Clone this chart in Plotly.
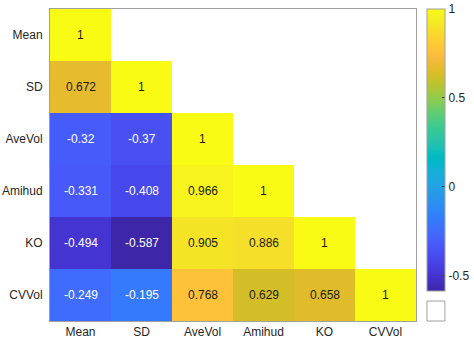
import plotly.graph_objects as go

labels = ["Mean", "SD", "AveVol", "Amihud", "KO", "CVVol"]
row_mean = [1, None, None, None, None, None]
row_sd = [0.672, 1, None, None, None, None]
row_avevol = [-0.32, -0.37, 1, None, None, None]
row_amihud = [-0.331, -0.408, 0.966, 1, None, None]
row_ko = [-0.494, -0.587, 0.905, 0.886, 1, None]
row_cvvol = [-0.249, -0.195, 0.768, 0.629, 0.658, 1]
cbar_ticks = [-0.5, 0, 0.5, 1]
cbar_ticktext = ["-0.5", "0", "0.5", "1"]

z = [row_mean, row_sd, row_avevol, row_amihud, row_ko, row_cvvol]

parula = [
    (0.2422, 0.1504, 0.6603), (0.2504, 0.1650, 0.7076), (0.2578, 0.1818, 0.7511),
    (0.2647, 0.1978, 0.7952), (0.2706, 0.2147, 0.8364), (0.2751, 0.2342, 0.8710),
    (0.2783, 0.2559, 0.8991), (0.2803, 0.2782, 0.9221), (0.2813, 0.3006, 0.9414),
    (0.2810, 0.3228, 0.9579), (0.2795, 0.3447, 0.9717), (0.2760, 0.3667, 0.9829),
    (0.2699, 0.3892, 0.9906), (0.2602, 0.4123, 0.9952), (0.2440, 0.4358, 0.9988),
    (0.2206, 0.4603, 0.9973), (0.1963, 0.4847, 0.9892), (0.1834, 0.5074, 0.9798),
    (0.1786, 0.5289, 0.9682), (0.1764, 0.5499, 0.9520), (0.1687, 0.5703, 0.9359),
    (0.1540, 0.5902, 0.9218), (0.1460, 0.6091, 0.9079), (0.1380, 0.6276, 0.8973),
    (0.1248, 0.6459, 0.8883), (0.1113, 0.6635, 0.8763), (0.0952, 0.6798, 0.8598),
    (0.0689, 0.6948, 0.8394), (0.0297, 0.7082, 0.8163), (0.0036, 0.7203, 0.7917),
    (0.0067, 0.7312, 0.7660), (0.0433, 0.7411, 0.7394), (0.0964, 0.7500, 0.7120),
    (0.1408, 0.7584, 0.6842), (0.1717, 0.7670, 0.6554), (0.1938, 0.7758, 0.6251),
    (0.2161, 0.7843, 0.5923), (0.2470, 0.7918, 0.5567), (0.2906, 0.7973, 0.5188),
    (0.3406, 0.8008, 0.4789), (0.3909, 0.8029, 0.4354), (0.4456, 0.8024, 0.3909),
    (0.5044, 0.7993, 0.3480), (0.5616, 0.7942, 0.3045), (0.6174, 0.7876, 0.2612),
    (0.6720, 0.7793, 0.2227), (0.7242, 0.7698, 0.1910), (0.7738, 0.7598, 0.1646),
    (0.8203, 0.7498, 0.1535), (0.8634, 0.7406, 0.1596), (0.9035, 0.7330, 0.1774),
    (0.9393, 0.7288, 0.2100), (0.9728, 0.7298, 0.2394), (0.9956, 0.7434, 0.2371),
    (0.9970, 0.7659, 0.2199), (0.9952, 0.7893, 0.2028), (0.9892, 0.8136, 0.1885),
    (0.9786, 0.8386, 0.1766), (0.9676, 0.8639, 0.1643), (0.9610, 0.8890, 0.1537),
    (0.9597, 0.9135, 0.1423), (0.9628, 0.9373, 0.1265), (0.9691, 0.9606, 0.1064),
    (0.9769, 0.9839, 0.0805),
]
n = len(parula)
colorscale = [[i / (n - 1), "rgb(%d,%d,%d)" % tuple(round(c * 255) for c in col)]
              for i, col in enumerate(parula)]

vals = [v for r in z for v in r if v is not None]
zmin, zmax = min(vals), max(vals)

fig = go.Figure(go.Heatmap(
    z=z, x=labels, y=labels, colorscale=colorscale, zmin=zmin, zmax=zmax,
    xgap=0, ygap=0, hoverongaps=False,
    colorbar=dict(
        x=1.03, xanchor="left", y=1, yanchor="top", len=0.904, lenmode="fraction",
        thickness=18, xpad=0, ypad=0, outlinewidth=1, outlinecolor="#a0a0a0",
        tickvals=cbar_ticks, ticktext=cbar_ticktext, ticks="inside", ticklen=3,
        tickcolor="#404040", tickfont=dict(family="Liberation Sans, Arial", size=12, color="#262626"),
    ),
))

for i, rname in enumerate(labels):
    for j, cname in enumerate(labels):
        v = z[i][j]
        if v is None:
            continue
        fig.add_annotation(
            x=cname, y=rname, text=f"{v:g}", showarrow=False,
            font=dict(family="Liberation Sans, Arial", size=12,
                      color="white" if v < 0.3 else "#1a1a1a"),
        )

fig.add_shape(type="rect", xref="paper", yref="paper", x0=1.03, x1=1.079, y0=0, y1=0.064,
              line=dict(color="#a0a0a0", width=1), fillcolor="white")

fig.update_layout(
    width=474, height=343, margin=dict(l=50, r=58, t=9, b=22, autoexpand=False),
    paper_bgcolor="white", plot_bgcolor="white",
    font=dict(family="Liberation Sans, Arial", size=12, color="#262626"),
    xaxis=dict(showgrid=False, zeroline=False, showline=True, mirror=True, automargin=False,
               linecolor="#a0a0a0", linewidth=1, ticks="", tickfont=dict(size=12)),
    yaxis=dict(showgrid=False, zeroline=False, showline=True, mirror=True, autorange="reversed",
               automargin=False, linecolor="#a0a0a0", linewidth=1, ticks="",
               tickfont=dict(size=12), ticklabelstandoff=4),
)

fig.write_html("out.html")
